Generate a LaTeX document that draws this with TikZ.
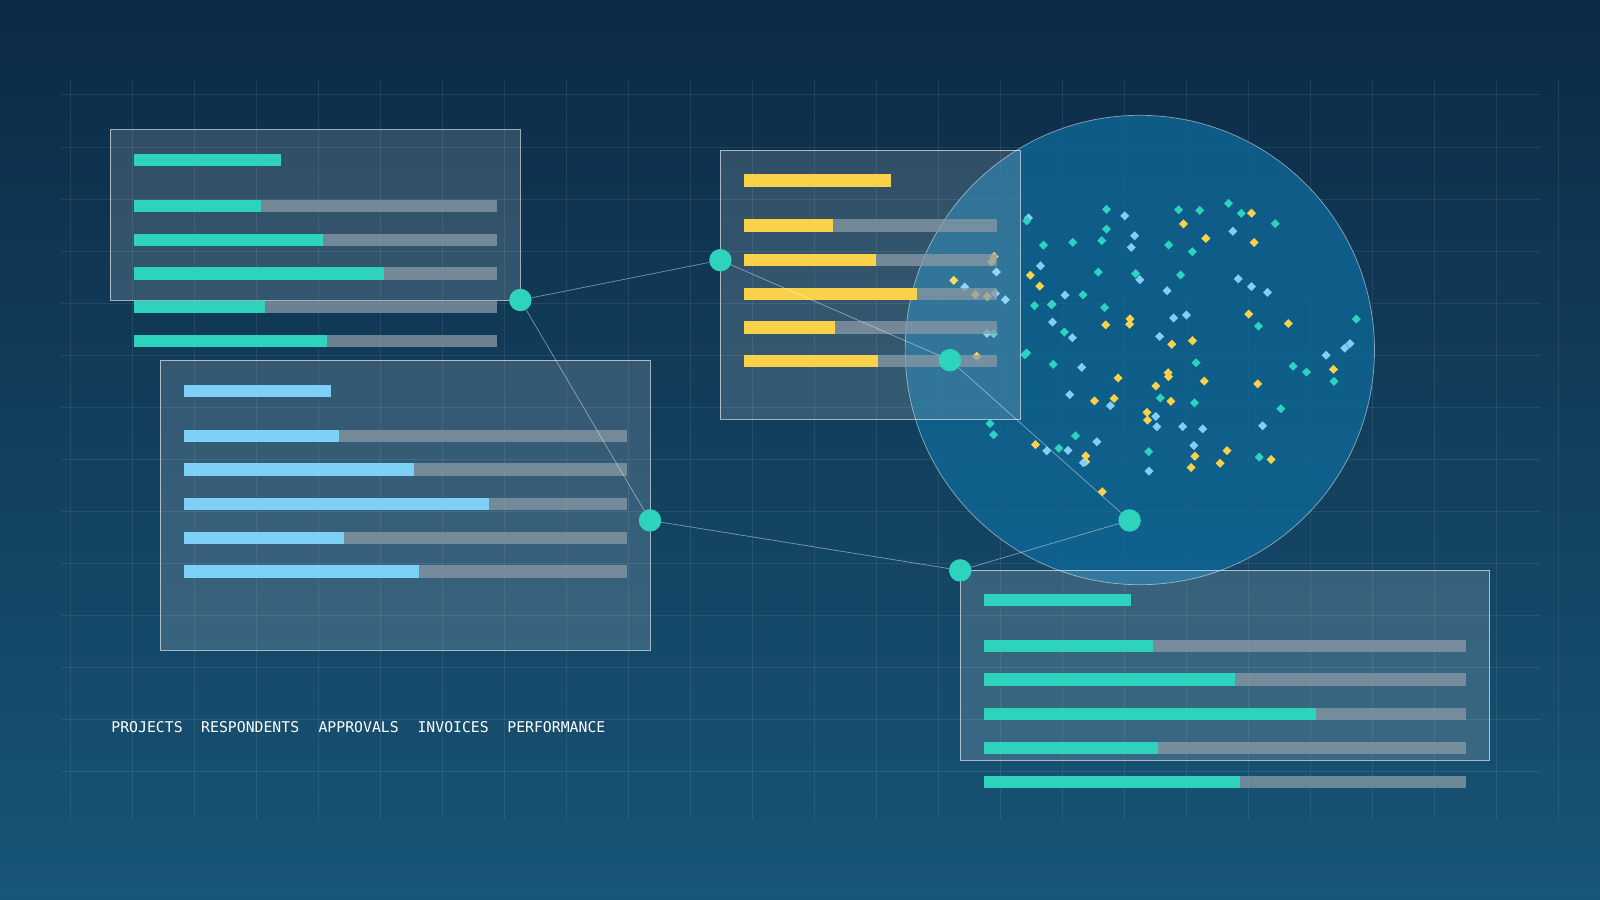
\documentclass[tikz,border=0pt]{standalone}
\usepackage{fontspec}
\newfontfamily\monof{DejaVu Sans Mono}
\usetikzlibrary{shapes.geometric}
\definecolor{bgtop}{HTML}{0C2A45}
\definecolor{bgbot}{HTML}{185577}
\definecolor{teal}{HTML}{2ED3BE}
\definecolor{lblue}{HTML}{7FD0F7}
\definecolor{yel}{HTML}{F9D24A}
\definecolor{track}{HTML}{8A9AA6}
\definecolor{circ}{HTML}{0E6A9A}
\tikzset{
 panel/.style={draw=white,draw opacity=0.6,fill=white,fill opacity=0.15,line width=0.8pt},
 trk/.style={fill=track,fill opacity=0.75},
 hub/.style={circle,fill=teal,minimum size=22pt,inner sep=0pt},
 link/.style={draw=white,draw opacity=0.45,line width=0.7pt},
 lbl/.style={font=\monof\fontsize{14.5}{14.5}\selectfont,text=white,anchor=west,inner sep=0pt},
 dia/.style={diamond,inner sep=0pt,minimum size=9pt}
}
\begin{document}
\begin{tikzpicture}[x=1pt,y=-1pt]
\useasboundingbox (0,0) rectangle (1568,882);
\shade[top color=bgtop,bottom color=bgbot] (0,0) rectangle (1568,882);
\foreach \i in {0,...,24}{\draw[white,opacity=0.08,line width=0.8pt] ({69+60.75*\i},78) -- ({69+60.75*\i},803);}
\foreach \j in {0,...,13}{\draw[white,opacity=0.08,line width=0.8pt] (60,{93+51*\j}) -- (1510,{93+51*\j});}
\fill[circ,opacity=0.75] (1117,343) circle (230);
\draw[white,opacity=0.5,line width=0.7pt] (1117,343) circle (230);
\pgfmathsetseed{11}
\foreach \k in {1,...,120}{
 \pgfmathsetmacro\ang{rnd*360}\pgfmathsetmacro\rr{sqrt(rnd)}
 \pgfmathtruncatemacro\cc{mod(\k,3)}
 \ifnum\cc=0 \def\dc{teal}\else\ifnum\cc=1 \def\dc{lblue}\else\def\dc{yel}\fi\fi
 \node[dia,fill=\dc] at ({1122+215*\rr*cos(\ang)},{336+150*\rr*sin(\ang)}) {};
}
\draw[panel] (108,127) rectangle (510,294);
\fill[teal] (131,151) rectangle (275,163);
\foreach \y/\e in {202/256,235/317,268/376,301/260,334/320}{
 \fill[trk] (131,\y-6) rectangle (487,\y+6); \fill[teal] (131,\y-6) rectangle (\e,\y+6);}
\draw[panel] (157,353) rectangle (637,637);
\fill[lblue] (180,377) rectangle (324,389);
\foreach \y/\e in {427/332,460/406,494/479,527/337,560/411}{
 \fill[trk] (180,\y-6) rectangle (614,\y+6); \fill[lblue] (180,\y-6) rectangle (\e,\y+6);}
\draw[panel] (706,147) rectangle (1000,411);
\fill[yel] (729,171) rectangle (873,183);
\foreach \y/\e in {221/816,255/858,288/899,321/818,354/860}{
 \fill[trk] (729,\y-6) rectangle (977,\y+6); \fill[yel] (729,\y-6) rectangle (\e,\y+6);}
\draw[panel] (941,559) rectangle (1460,745);
\fill[teal] (964,582) rectangle (1108,594);
\foreach \y/\e in {633/1130,666/1210,700/1290,733/1135,766/1215}{
 \fill[trk] (964,\y-6) rectangle (1437,\y+6); \fill[teal] (964,\y-6) rectangle (\e,\y+6);}
\node[hub] (A) at (510,294) {};
\node[hub] (B) at (706,255) {};
\node[hub] (C) at (931,353) {};
\node[hub] (D) at (637,510) {};
\node[hub] (E) at (941,559) {};
\node[hub] (F) at (1107,510) {};
\draw[link] (A) -- (B); \draw[link] (B) -- (C); \draw[link] (C) -- (F);
\draw[link] (A) -- (D); \draw[link] (D) -- (E); \draw[link] (E) -- (F);
\node[lbl] (l1) at (109,713) {PROJECTS};
\node[lbl] (l2) at (197,713) {RESPONDENTS};
\node[lbl] (l3) at (312,713) {APPROVALS};
\node[lbl] (l4) at (409,713) {INVOICES};
\node[lbl] (l5) at (497,713) {PERFORMANCE};
\end{tikzpicture}
\end{document}
